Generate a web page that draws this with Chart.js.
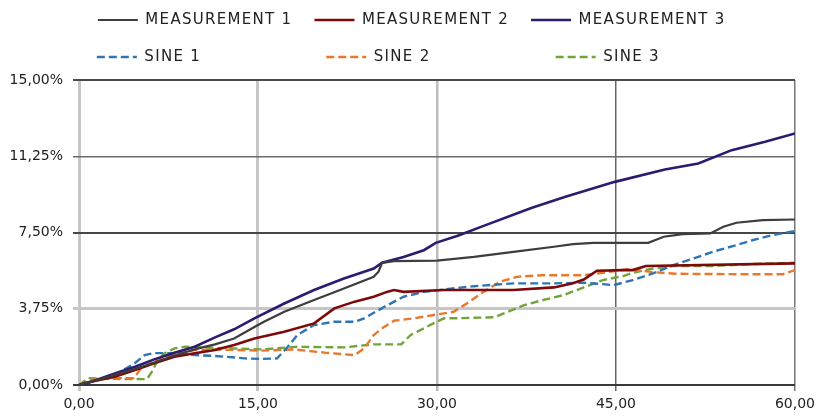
<!DOCTYPE html>
<html>
<head>
<meta charset="utf-8">
<script src="https://cdn.jsdelivr.net/npm/chart.js@4.4.1/dist/chart.umd.min.js"></script>
<style>
  html, body { margin: 0; padding: 0; background: #fff; }
  #wrap { width: 820px; height: 416px; }
</style>
</head>
<body>
<div id="wrap"><canvas id="c" width="820" height="416"></canvas></div>
<script>
// ---- Data ----
const seriesNames = ['MEASUREMENT 1', 'MEASUREMENT 2', 'MEASUREMENT 3', 'SINE 1', 'SINE 2', 'SINE 3'];

const m1X = [0, 3, 5, 8, 10, 11.4, 13, 14.7, 15.5, 17.2, 19.7, 22.2, 24.7, 25.1, 25.4, 26.4, 30, 33.1, 36.4, 39.8, 41.4, 43.1, 47.7, 49, 50.6, 52.9, 54, 55.1, 57.3, 60];
const m1Y = [0, 0.5, 0.85, 1.45, 1.8, 2.0, 2.29, 2.85, 3.11, 3.6, 4.18, 4.75, 5.32, 5.57, 6.01, 6.09, 6.12, 6.3, 6.55, 6.8, 6.93, 6.99, 6.99, 7.29, 7.42, 7.45, 7.78, 7.98, 8.11, 8.14];

const m2X = [0, 0.5, 3, 4.7, 6.3, 8, 9.7, 11.4, 13, 14.7, 17.2, 19.7, 21.4, 23.1, 24.7, 25.8, 26.4, 27.2, 30.6, 36.4, 39.8, 41.4, 42.3, 43.4, 45.6, 46.4, 47.5, 60];
const m2Y = [0, 0.1, 0.41, 0.74, 1.07, 1.39, 1.56, 1.72, 1.97, 2.29, 2.62, 3.03, 3.77, 4.1, 4.34, 4.58, 4.67, 4.58, 4.67, 4.67, 4.8, 5.0, 5.19, 5.62, 5.65, 5.65, 5.85, 5.98];

const m3X = [0, 0.5, 3, 4.7, 6.3, 8, 9.7, 11.4, 13, 14.7, 17.2, 19.7, 22.2, 24.7, 25.4, 27.2, 28.9, 29.9, 31.8, 33.8, 37.9, 40.7, 44.9, 49.1, 51.9, 54.7, 57.5, 60];
const m3Y = [0, 0.05, 0.57, 0.9, 1.26, 1.59, 1.88, 2.34, 2.74, 3.28, 4.01, 4.67, 5.24, 5.73, 6.01, 6.3, 6.63, 6.99, 7.35, 7.8, 8.7, 9.25, 9.99, 10.6, 10.89, 11.55, 11.96, 12.37];

const s1X = [0, 3, 4.7, 5.5, 6.3, 8, 9.7, 11.4, 13.9, 15.3, 16.6, 17.5, 18.3, 19.7, 21.4, 23.1, 23.9, 25.6, 27.2, 28.9, 30.6, 33.1, 36.4, 39.8, 42.3, 43.9, 44.8, 46.4, 48.1, 49.8, 51.5, 53.1, 54.8, 56.5, 58.1, 60];
const s1Y = [0, 0.49, 1.08, 1.47, 1.57, 1.57, 1.47, 1.43, 1.31, 1.28, 1.31, 1.88, 2.46, 2.95, 3.11, 3.11, 3.28, 3.85, 4.34, 4.58, 4.7, 4.86, 5.0, 5.0, 5.03, 4.96, 4.91, 5.16, 5.49, 5.9, 6.22, 6.55, 6.83, 7.13, 7.37, 7.57];

const s2X = [0, 1.3, 3, 4.6, 5.2, 6.3, 8, 9.7, 11.4, 15.3, 18, 20.6, 23.1, 23.9, 24.7, 25.6, 26.4, 28.1, 29.7, 31.4, 32.5, 33.9, 35.3, 36.7, 38.9, 42.3, 43.9, 46, 48.1, 50, 55, 59, 60];
const s2Y = [0, 0.29, 0.34, 0.34, 0.82, 1.15, 1.56, 1.72, 1.75, 1.69, 1.75, 1.59, 1.47, 1.8, 2.46, 2.87, 3.16, 3.28, 3.44, 3.6, 4.01, 4.58, 5.08, 5.32, 5.4, 5.4, 5.52, 5.7, 5.55, 5.47, 5.45, 5.45, 5.65];

const s3X = [0, 0.75, 3, 5.7, 6.1, 6.6, 7.2, 8, 8.9, 15.3, 18.3, 22.2, 24.7, 27, 27.8, 28.9, 29.7, 30.6, 31.4, 34.8, 35.6, 37.3, 38.9, 40.6, 42.3, 43.9, 45.6, 46.4, 48.1, 49.8, 53.1, 56.5, 60];
const s3Y = [0, 0.34, 0.3, 0.29, 0.65, 1.23, 1.56, 1.8, 1.88, 1.75, 1.88, 1.85, 2.0, 2.0, 2.46, 2.79, 3.03, 3.28, 3.28, 3.33, 3.52, 3.93, 4.18, 4.42, 4.8, 5.16, 5.36, 5.52, 5.73, 5.85, 5.85, 5.95, 6.01];

const xTickLabels = ['0,00', '15,00', '30,00', '45,00', '60,00'];
const yTickLabels = ['0,00%', '3,75%', '7,50%', '11,25%', '15,00%'];

// ---- Build chart ----
const zip = (xs, ys) => xs.map((x, i) => ({ x: x, y: ys[i] }));
const seriesX = [m1X, m2X, m3X, s1X, s2X, s3X];
const seriesY = [m1Y, m2Y, m3Y, s1Y, s2Y, s3Y];
const colors = ['#3d3d3d', '#7c0a0a', '#2e1a6e', '#2e75b6', '#e8782e', '#72a43c'];
const dashes = [[], [], [], [8, 4], [8, 4], [8, 4]];
const widths = [2.2, 2.6, 2.6, 2.4, 2.4, 2.4];

const datasets = seriesNames.map((name, i) => ({
  label: name,
  data: zip(seriesX[i], seriesY[i]),
  borderColor: colors[i],
  backgroundColor: colors[i],
  borderWidth: widths[i],
  borderDash: dashes[i],
  pointRadius: 0,
  pointHoverRadius: 0,
  tension: 0,
  fill: false
}));

const yGridColors = ['#3a3a3a', '#c6c6c6', '#474747', '#6a6a6a', '#4a4a4a'];
const yGridWidths = [2, 3, 2, 1.5, 2];
const xGridColors = ['#c6c6c6', '#c6c6c6', '#bdbdbd', '#666666', '#777777'];
const xGridWidths = [3, 3, 2.5, 1.5, 1.5];

const FONT = 'DejaVu Sans';
const LEGEND_SPACING = '1.3px';

// legend: extra gap below it and slightly letter-spaced text
const legendTweaks = {
  id: 'legendTweaks',
  beforeInit(chart) {
    const lg = chart.legend;
    const withSpacing = fn => function (...args) {
      const ctx = this.ctx;
      const prev = ctx.letterSpacing;
      ctx.letterSpacing = LEGEND_SPACING;
      try { return fn.apply(this, args); }
      finally { ctx.letterSpacing = prev || '0px'; }
    };
    const fit = lg.fit;
    lg.fit = function () { fit.call(this); this.height += 5.5; };
    lg.update = withSpacing(lg.update);
    lg.draw = withSpacing(lg.draw);
  }
};

new Chart(document.getElementById('c'), {
  type: 'line',
  data: { datasets: datasets },
  plugins: [legendTweaks],
  options: {
    responsive: false,
    devicePixelRatio: 1,
    animation: false,
    events: [],
    layout: { padding: { top: -9.5, left: 6.5, right: 3, bottom: 0 } },
    plugins: {
      tooltip: { enabled: false },
      legend: {
        display: true,
        position: 'top',
        align: 'center',
        labels: {
          usePointStyle: true,
          pointStyle: 'line',
          pointStyleWidth: 40,
          padding: 22,
          color: '#222',
          font: { family: FONT, size: 15 },
          generateLabels(chart) {
            const items = Chart.defaults.plugins.legend.labels.generateLabels(chart);
            const ctx = chart.ctx;
            ctx.save();
            ctx.font = '15px "' + FONT + '"';
            const target = Math.max(...items.map(it => ctx.measureText(it.text).width));
            items.forEach(it => {
              const ds = chart.data.datasets[it.datasetIndex];
              it.lineWidth = ds.borderWidth;
              it.lineDash = ds.borderDash;
              it.strokeStyle = ds.borderColor;
              while (ctx.measureText(it.text + ' ').width <= target + 1) it.text += ' ';
            });
            ctx.restore();
            return items;
          }
        }
      }
    },
    scales: {
      x: {
        type: 'linear',
        min: 0,
        max: 60,
        afterFit(scale) { scale.height = 31; },
        ticks: {
          stepSize: 15,
          color: '#222',
          padding: 5,
          maxRotation: 0,
          font: { family: FONT, size: 14 },
          callback: (v, i) => xTickLabels[i]
        },
        grid: {
          color: ctx => xGridColors[ctx.index] || '#999',
          lineWidth: ctx => xGridWidths[ctx.index] || 1,
          tickLength: 6
        },
        border: { display: false }
      },
      y: {
        type: 'linear',
        min: 0,
        max: 15,
        afterFit(scale) { scale.width = 72.5; },
        ticks: {
          stepSize: 3.75,
          color: '#222',
          padding: 10,
          font: { family: FONT, size: 14 },
          callback: (v, i) => yTickLabels[i]
        },
        grid: {
          color: ctx => yGridColors[ctx.index] || '#999',
          lineWidth: ctx => yGridWidths[ctx.index] || 1,
          tickLength: 6
        },
        border: { display: false }
      }
    }
  }
});
</script>
</body>
</html>
